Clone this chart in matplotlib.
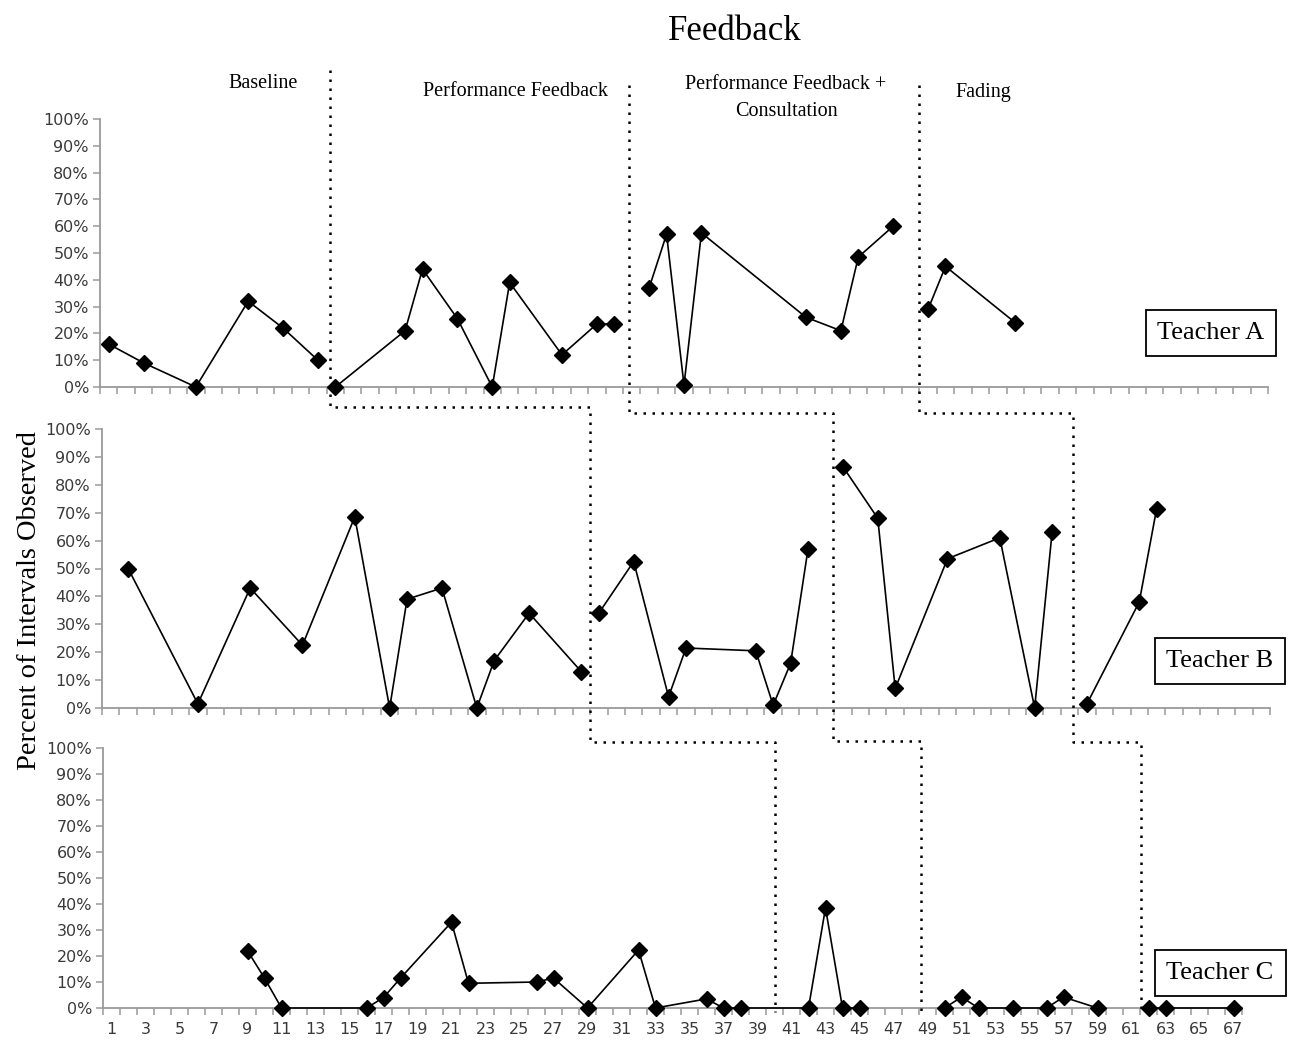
import numpy as np
import matplotlib
matplotlib.use('Agg')
import matplotlib.pyplot as plt
from matplotlib.lines import Line2D

# sessions / percent of intervals, one set per teacher
# seg = which connected run of points (lines break at phase changes)
a_sessions = [1, 3, 6, 9, 11, 13, 14, 18, 19, 21, 23, 24, 27, 29, 30,
              32, 33, 34, 35, 41, 43, 44, 46, 48, 49, 53]
a_values = [16, 9, 0, 32, 22, 10, 0, 21, 44, 25.5, 0, 39, 12, 23.5, 23.5,
            37, 57, 0.7, 57.5, 26, 21, 48.5, 60, 29, 45, 24]
a_seg = [0]*6 + [1]*9 + [2]*8 + [3]*3

b_sessions = [2, 6, 9, 12, 15, 17, 18, 20, 22, 23, 25, 28,
              29, 31, 33, 34, 38, 39, 40, 41,
              43, 45, 46, 49, 52, 54, 55,
              57, 60, 61]
b_values = [50, 1.5, 43, 22.5, 68.5, 0, 39, 43, 0, 17, 34, 13,
            34, 52.5, 4, 21.5, 20.5, 1, 16, 57,
            86.5, 68, 7, 53.5, 61, 0, 63,
            1.5, 38, 71.5]
b_seg = [0]*12 + [1]*8 + [2]*7 + [3]*3

c_sessions = [9, 10, 11, 16, 17, 18, 21, 22, 26, 27, 29, 32, 33, 36, 37, 38,
              42, 43, 44, 45,
              50, 51, 52, 54, 56, 57, 59,
              62, 63, 67]
c_values = [22, 11.5, 0, 0, 4, 11.5, 33, 9.5, 10, 11.5, 0, 22.3, 0, 3.5, 0, 0,
            0, 38.5, 0, 0,
            0, 4.2, 0, 0, 0, 4.2, 0,
            0, 0, 0]
c_seg = [0]*20 + [1]*7 + [2]*3

# phase change lines (between sessions)
a_phase = [13.7, 30.85, 47.5]
b_phase = [28.5, 42.45, 56.2]
c_phase = [40.0, 48.6, 61.55]

phase_names = ['Baseline', 'Performance Feedback',
               'Performance Feedback +\nConsultation', 'Fading']
teachers = ['Teacher A', 'Teacher B', 'Teacher C']
y_ticks = list(range(0, 101, 10))
x_labels = list(range(1, 68, 2))

W, H = 1299, 1045
fig = plt.figure(figsize=(W/100, H/100), dpi=100)

serif = ['Liberation Serif', 'DejaVu Serif']
narrow = ['Liberation Sans Narrow', 'DejaVu Sans']
grey = '#9a9a9a'


def px_box(left, top, right, bottom):
    return [left/W, 1 - bottom/H, (right - left)/W, (bottom - top)/H]


ax_a = fig.add_axes(px_box(100, 119, 1268, 387))
ax_b = fig.add_axes(px_box(102, 429, 1270, 708))
ax_c = fig.add_axes(px_box(103, 748, 1242, 1008))


def style(ax, show_labels):
    ax.set_xlim(0.5, 67.5)
    ax.set_ylim(0, 100)
    for s in ['top', 'right']:
        ax.spines[s].set_visible(False)
    for s in ['left', 'bottom']:
        ax.spines[s].set_color(grey)
        ax.spines[s].set_linewidth(1.3)
    ax.set_yticks(y_ticks)
    ax.set_yticklabels([f'{v}%' for v in y_ticks], family=narrow, fontsize=11.5,
                       color='#3a3a3a')
    ax.tick_params(axis='y', length=5, color=grey, width=1.1, pad=3)
    ax.set_xticks(np.arange(0.5, 68, 1), minor=True)
    ax.tick_params(axis='x', which='minor', length=5, color=grey, width=1.1)
    if show_labels:
        ax.set_xticks(x_labels)
        ax.set_xticklabels([str(v) for v in x_labels], family=narrow,
                           fontsize=11.5, color='#3a3a3a')
        ax.tick_params(axis='x', which='major', length=0, pad=10)
    else:
        ax.set_xticks([])


def draw(ax, sessions, values, segs):
    for g in sorted(set(segs)):
        xs = [x for x, s in zip(sessions, segs) if s == g]
        ys = [y for y, s in zip(values, segs) if s == g]
        ax.plot(xs, ys, color='black', lw=1.2, marker='D', ms=8.5,
                clip_on=False, zorder=3)


style(ax_a, False)
style(ax_b, False)
style(ax_c, True)
draw(ax_a, a_sessions, a_values, a_seg)
draw(ax_b, b_sessions, b_values, b_seg)
draw(ax_c, c_sessions, c_values, c_seg)

# staircase phase lines across the three panels
def xpix(ax, x):
    return ax.transData.transform((x, 0))[0]

starts = [70, 85, 85]
joins1 = [407, 413, 413]
joins2 = [742, 741, 742]
end = 1012
for i in range(3):
    xa = xpix(ax_a, a_phase[i])
    xb = xpix(ax_b, b_phase[i])
    xc = xpix(ax_c, c_phase[i])
    xs = [xa, xa, xb, xb, xc, xc]
    ys = [starts[i], joins1[i], joins1[i], joins2[i], joins2[i], end]
    fig.add_artist(Line2D([x/W for x in xs], [1 - y/H for y in ys],
                          color='black', lw=1.8, linestyle=(0, (1, 2.6)),
                          transform=fig.transFigure))

fig.text(735/W, 1 - 32/H, 'Feedback', family=serif, fontsize=25,
         ha='center', va='center')
fig.text(263/W, 1 - 83/H, phase_names[0], family=serif, fontsize=14.5,
         ha='center', va='center')
fig.text(515/W, 1 - 92/H, phase_names[1], family=serif, fontsize=14.5,
         ha='center', va='center')
fig.text(786/W, 1 - 98/H, phase_names[2], family=serif, fontsize=14.5,
         ha='center', va='center', linespacing=1.6)
fig.text(983/W, 1 - 92/H, phase_names[3], family=serif, fontsize=14.5,
         ha='center', va='center')

fig.text(30/W, 1 - 600/H, 'Percent of Intervals Observed', family=serif,
         fontsize=20.5, rotation=90, ha='center', va='center')

box = dict(boxstyle='square,pad=0.45', fc='white', ec='black', lw=1.3)
fig.text(1211/W, 1 - 333/H, teachers[0], family=serif, fontsize=19,
         ha='center', va='center', bbox=box)
fig.text(1220/W, 1 - 661/H, teachers[1], family=serif, fontsize=19,
         ha='center', va='center', bbox=box)
fig.text(1220/W, 1 - 973/H, teachers[2], family=serif, fontsize=19,
         ha='center', va='center', bbox=box)

fig.savefig('out.png', dpi=100, facecolor='white')
